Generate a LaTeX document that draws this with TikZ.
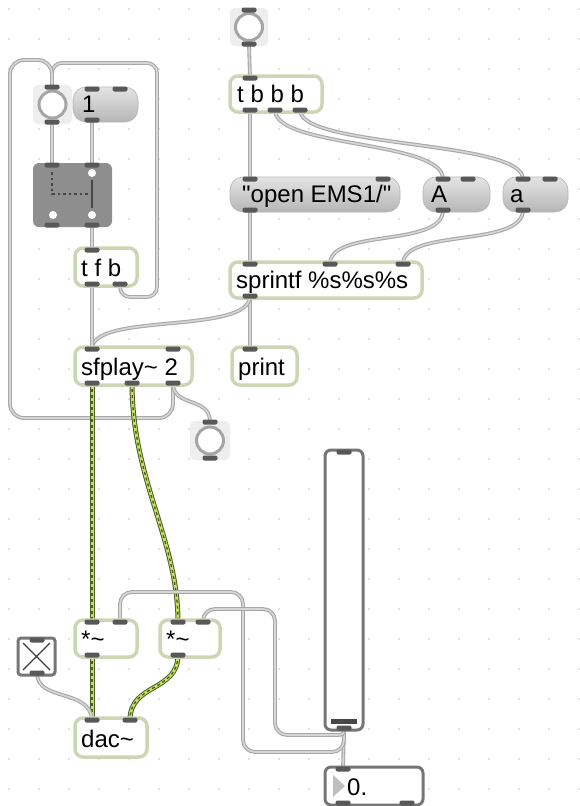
\documentclass[tikz,border=0pt]{standalone}
\usepackage{fontspec}
\setmainfont{Liberation Sans}[Ligatures=TeXOff]
\definecolor{objb}{RGB}{205,214,180}
\definecolor{msgtop}{RGB}{228,228,228}
\definecolor{msgbot}{RGB}{182,182,182}
\definecolor{portc}{RGB}{88,88,88}
\definecolor{cordo}{RGB}{168,168,168}
\definecolor{cordi}{RGB}{214,214,214}
\definecolor{sigd}{RGB}{78,92,40}
\definecolor{sigl}{RGB}{196,228,96}
\definecolor{bangbg}{RGB}{238,238,238}
\definecolor{ringc}{RGB}{165,165,165}
\definecolor{uic}{RGB}{118,118,118}
\definecolor{gatec}{RGB}{142,142,142}
\definecolor{gdark}{RGB}{70,70,70}
\definecolor{dotc}{RGB}{200,200,200}
\newcommand\maxbox[8]{%
  \path[#2] (#3,#4) rectangle (#5,#6);
  \node[txt, anchor=base west] (#1) at (#7,#6-10) {#8};}
\newcommand\prt[1]{\node[portst] (p#1) at (#1) {};}
\begin{document}
\begin{tikzpicture}[x=1pt,y=-1pt,
  txt/.style={font=\fontsize{24}{28}\selectfont, inner sep=0pt},
  objst/.style={draw=objb, line width=3.5pt, fill=white, rounded corners=8pt},
  msgst/.style={top color=msgtop, bottom color=msgbot, draw=msgbot, line width=0.6pt, rounded corners=13pt},
  portst/.style={rectangle, fill=portc, minimum width=15pt, minimum height=5pt, inner sep=0pt, rounded corners=2pt},
  cord/.style={draw=cordo, double=cordi, double distance=1.6pt, line width=1.1pt},
  sig/.style={draw=sigd, line width=5pt, postaction={draw=sigl, line width=3pt}, postaction={draw=sigd, line width=1.4pt, dash pattern=on 3pt off 3pt}},
  bangbgst/.style={fill=bangbg, rounded corners=5pt},
  ringst/.style={draw=ringc, line width=3pt, fill=white},
  uist/.style={draw=uic, line width=3pt, fill=white, rounded corners=6pt}]
\fill[white] (0,0) rectangle (579,806);
\useasboundingbox (0,0) rectangle (579,806);
% grid dots
\foreach \i in {0,...,19}{\foreach \j in {0,...,26}{\fill[dotc] ({9+30*\i},{9+30*\j}) circle (0.9pt);}}
% port coordinates
\coordinate (bangT-i) at (249,10); \coordinate (bangT-o) at (249,44);
\coordinate (tbbb-i) at (250,78); \coordinate (tbbb-o1) at (250,110); \coordinate (tbbb-o2) at (275,110); \coordinate (tbbb-o3) at (300,110);
\coordinate (open-i1) at (250,179); \coordinate (open-i2) at (383,179); \coordinate (open-o) at (250,210);
\coordinate (A-i1) at (443,179); \coordinate (A-i2) at (468,179); \coordinate (A-o) at (443,210);
\coordinate (a-i1) at (523,179); \coordinate (a-i2) at (550,179); \coordinate (a-o) at (523,210);
\coordinate (spr-i1) at (250,264); \coordinate (spr-i2) at (330,264); \coordinate (spr-i3) at (403,264); \coordinate (spr-o) at (250,296);
\coordinate (print-i) at (250,349);
\coordinate (sfp-i1) at (92,349); \coordinate (sfp-i2) at (173,349); \coordinate (sfp-o1) at (92,383); \coordinate (sfp-o2) at (132,383); \coordinate (sfp-o3) at (173,383);
\coordinate (bangL-i) at (52,87); \coordinate (bangL-o) at (52,122);
\coordinate (one-i1) at (92,89); \coordinate (one-i2) at (120,89); \coordinate (one-o) at (92,120);
\coordinate (gate-i1) at (52,165); \coordinate (gate-i2) at (92,165); \coordinate (gate-o1) at (52,225); \coordinate (gate-o2) at (92,225);
\coordinate (tfb-i) at (92,250); \coordinate (tfb-o1) at (92,284); \coordinate (tfb-o2) at (120,284);
\coordinate (bangS-i) at (210,422); \coordinate (bangS-o) at (210,458);
\coordinate (mul1-i1) at (92,622); \coordinate (mul1-i2) at (120,622); \coordinate (mul1-o) at (92,655);
\coordinate (mul2-i1) at (178,622); \coordinate (mul2-i2) at (203,622); \coordinate (mul2-o) at (178,655);
\coordinate (tog-i) at (37,640); \coordinate (tog-o) at (37,673);
\coordinate (dac-i1) at (92,720); \coordinate (dac-i2) at (130,720);
\coordinate (sld-i) at (344,452); \coordinate (sld-o) at (344,728);
\coordinate (num-i) at (343,769); \coordinate (num-o1) at (343,803); \coordinate (num-o2) at (407,803);
% cords
\draw[cord] (bangT-o) -- (tbbb-i);
\draw[cord] (tbbb-o1) -- (open-i1);
\draw[cord] (tbbb-o2) .. controls (275,148) and (443,140) .. (A-i1);
\draw[cord] (tbbb-o3) .. controls (300,148) and (523,140) .. (a-i1);
\draw[cord] (open-o) -- (spr-i1);
\draw[cord] (A-o) .. controls (443,248) and (330,228) .. (spr-i2);
\draw[cord] (a-o) .. controls (523,248) and (403,228) .. (spr-i3);
\draw[cord] (spr-o) -- (print-i);
\draw[cord] (spr-o) .. controls (250,335) and (92,312) .. (sfp-i1);
\draw[cord] (bangL-o) -- (gate-i1);
\draw[cord] (one-o) -- (gate-i2);
\draw[cord] (gate-o2) -- (tfb-i);
\draw[cord] (tfb-o1) -- (sfp-i1);
\draw[cord, rounded corners=10pt] (tfb-o2) -- (120,297) -- (157,297) -- (157,63) -- (52,63) -- (bangL-i);
\draw[cord, rounded corners=14pt] (sfp-o3) -- (173,418) -- (10,418) -- (10,60) -- (52,60) -- (bangL-i);
\draw[cord] (sfp-o3) .. controls (173,408) and (210,396) .. (bangS-i);
\draw[sig] (sfp-o1) -- (mul1-i1);
\draw[sig] (sfp-o2) .. controls (132,480) and (178,540) .. (mul2-i1);
\draw[sig] (mul1-o) -- (dac-i1);
\draw[sig] (mul2-o) .. controls (178,692) and (130,683) .. (dac-i2);
\draw[cord] (tog-o) .. controls (37,702) and (90,688) .. (dac-i1);
\draw[cord] (sld-o) -- (num-i);
\draw[cord, rounded corners=12pt] (sld-o) -- (344,752) -- (243,752) -- (243,592) -- (120,592) -- (mul1-i2);
\draw[cord] (sld-o) .. controls (344,735) .. (332,735) [rounded corners=12pt] -- (275,735) -- (275,609) -- (203,609) -- (mul2-i2);
% bangs
\path[bangbgst] (230,8) rectangle (268,46); \draw[ringst] (249,27) circle (13.5pt);
\path[bangbgst] (33,85) rectangle (72,124); \draw[ringst] (52.5,104.5) circle (13.5pt);
\path[bangbgst] (190,421) rectangle (230,460); \draw[ringst] (210,440.5) circle (13.5pt);
% object and message boxes
\maxbox{tbbb}{objst}{230}{76}{322}{112}{237}{t b b b}
\maxbox{open}{msgst}{230}{177}{400}{212}{242}{"open EMS1/"}
\maxbox{A}{msgst}{423}{177}{490}{212}{431}{A}
\maxbox{a}{msgst}{503}{177}{568}{212}{510}{a}
\maxbox{spr}{objst}{230}{262}{422}{298}{236}{sprintf \%s\%s\%s}
\maxbox{print}{objst}{232}{347}{297}{385}{238}{print}
\maxbox{sfp}{objst}{75}{347}{192}{385}{81}{sfplay\char`\~\ 2}
\maxbox{one}{msgst}{73}{87}{138}{122}{82}{1}
\maxbox{tfb}{objst}{75}{248}{137}{286}{81}{t f b}
\maxbox{mul1}{objst}{75}{620}{137}{657}{81}{*\char`\~}
\maxbox{mul2}{objst}{160}{620}{220}{657}{166}{*\char`\~}
\maxbox{dac}{objst}{75}{718}{147}{757}{81}{dac\char`\~}
% gate
\path[fill=gatec, rounded corners=6pt] (33,163) rectangle (112,227);
\draw[gdark, line width=2.5pt, dash pattern=on 2.5pt off 3pt] (52,172) -- (52,194) -- (88,194);
\draw[gdark, line width=2.5pt] (92,180) -- (92,208);
\fill[white] (92,173) circle (4pt) (53,215) circle (4pt) (92,215) circle (4pt);
% toggle
\draw[draw=uic, line width=3pt, fill=white, rounded corners=3pt] (18,638) rectangle (55,675);
\draw[black!75, line width=1.4pt] (23,643) -- (50,670) (50,643) -- (23,670);
% slider
\draw[uist] (325,450) rectangle (363,730);
\fill[black!72] (331,719) rectangle (357,724);
% number box
\draw[uist] (325,767) rectangle (423,805);
\fill[black!25] (333,775) -- (345,786) -- (333,797) -- cycle;
\node[txt, anchor=base west] (numt) at (347,795) {0.};
% ports
\prt{bangT-i}\prt{bangT-o}
\prt{tbbb-i}\prt{tbbb-o1}\prt{tbbb-o2}\prt{tbbb-o3}
\prt{open-i1}\prt{open-i2}\prt{open-o}
\prt{A-i1}\prt{A-i2}\prt{A-o}
\prt{a-i1}\prt{a-i2}\prt{a-o}
\prt{spr-i1}\prt{spr-i2}\prt{spr-i3}\prt{spr-o}
\prt{print-i}
\prt{sfp-i1}\prt{sfp-i2}\prt{sfp-o1}\prt{sfp-o2}\prt{sfp-o3}
\prt{bangL-i}\prt{bangL-o}
\prt{one-i1}\prt{one-i2}\prt{one-o}
\prt{gate-i1}\prt{gate-i2}\prt{gate-o1}\prt{gate-o2}
\prt{tfb-i}\prt{tfb-o1}\prt{tfb-o2}
\prt{bangS-i}\prt{bangS-o}
\prt{mul1-i1}\prt{mul1-i2}\prt{mul1-o}
\prt{mul2-i1}\prt{mul2-i2}\prt{mul2-o}
\prt{tog-i}\prt{tog-o}
\prt{dac-i1}\prt{dac-i2}
\prt{sld-i}\prt{sld-o}
\prt{num-i}\prt{num-o1}\prt{num-o2}
\end{tikzpicture}
\end{document}
